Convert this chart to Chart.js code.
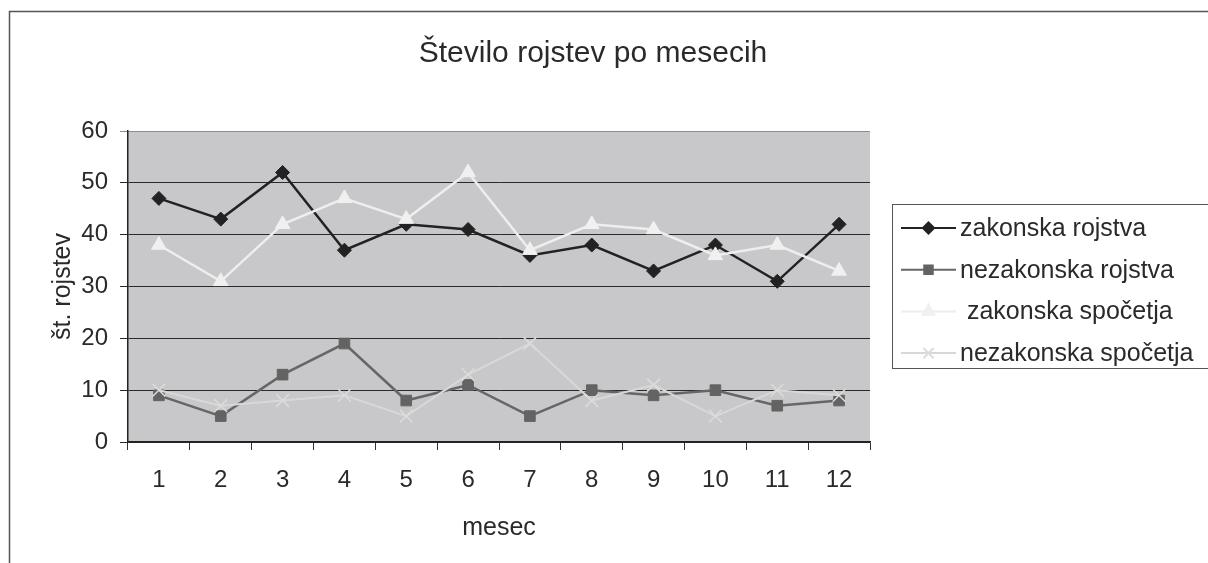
<!DOCTYPE html>
<html>
<head>
<meta charset="utf-8">
<script src="https://cdn.jsdelivr.net/npm/chart.js@4.4.0/dist/chart.umd.min.js"></script>
<style>
  html, body { margin: 0; padding: 0; background: #fff; }
  #okvir { width: 1208px; height: 563px; }
</style>
</head>
<body>
<div id="okvir"><canvas id="graficoRojstev" width="1208" height="563"></canvas></div>
<script>
// Podatki
const meseci = ['1', '2', '3', '4', '5', '6', '7', '8', '9', '10', '11', '12'];
const zakonskaRojstva = [47, 43, 52, 37, 42, 41, 36, 38, 33, 38, 31, 42];
const nezakonskaRojstva = [9, 5, 13, 19, 8, 11, 5, 10, 9, 10, 7, 8];
const zakonskaSpocetja = [38, 31, 42, 47, 43, 52, 37, 42, 41, 36, 38, 33];
const nezakonskaSpocetja = [10, 7, 8, 9, 5, 13, 19, 8, 11, 5, 10, 9];
const oznakeY = [0, 10, 20, 30, 40, 50, 60];

const naslov = 'Število rojstev po mesecih';
const pisava = 'Liberation Sans, Arial, Helvetica, sans-serif';
const barvaBesedila = '#2a2a2a';

// Ozadje risalne površine, zunanji okvir in naslov
const ozadje = {
  id: 'ozadje',
  beforeDraw(chart) {
    const { ctx, chartArea: a } = chart;
    ctx.save();
    ctx.fillStyle = '#c8c8ca';
    ctx.fillRect(a.left, a.top, a.right - a.left, a.bottom - a.top);
    ctx.restore();
  },
  afterDraw(chart) {
    const ctx = chart.ctx;
    ctx.save();
    ctx.strokeStyle = '#555';
    ctx.lineWidth = 1.5;
    ctx.strokeRect(9.5, 11.5, 1300, 700);
    ctx.fillStyle = barvaBesedila;
    ctx.font = '30px ' + pisava;
    ctx.textAlign = 'center';
    ctx.textBaseline = 'middle';
    ctx.fillText(naslov, 593, 54);
    ctx.restore();
  }
};

// Legenda (narisana ročno: črta + oznaka kot v originalu)
const legenda = {
  id: 'legenda',
  afterDraw(chart) {
    const ctx = chart.ctx;
    ctx.save();
    ctx.strokeStyle = '#555';
    ctx.lineWidth = 1;
    ctx.strokeRect(892.5, 204.5, 400, 164);
    chart.data.datasets.forEach((ds, i) => {
      const y = 228 + i * 41.7;
      ctx.strokeStyle = ds.borderColor;
      ctx.lineWidth = 2;
      ctx.beginPath();
      ctx.moveTo(901, y);
      ctx.lineTo(956, y);
      ctx.stroke();
      ctx.fillStyle = ds.pointBackgroundColor;
      ctx.strokeStyle = ds.pointBorderColor;
      Chart.helpers.drawPoint(ctx, {
        pointStyle: ds.pointStyle,
        radius: ds.pointRadius * 0.8,
        rotation: 0,
        borderWidth: ds.pointBorderWidth
      }, 928.5, y);
      ctx.fillStyle = barvaBesedila;
      ctx.font = '25px ' + pisava;
      ctx.textAlign = 'left';
      ctx.textBaseline = 'middle';
      ctx.fillText(ds.label, 960, y + 1);
    });
    ctx.restore();
  }
};

const ctx = document.getElementById('graficoRojstev').getContext('2d');

new Chart(ctx, {
  type: 'line',
  data: {
    labels: meseci,
    datasets: [
      {
        label: 'zakonska rojstva',
        data: zakonskaRojstva,
        borderColor: '#222',
        borderWidth: 2.5,
        pointStyle: 'rectRot',
        pointRadius: 7,
        pointBackgroundColor: '#222',
        pointBorderColor: '#222',
        pointBorderWidth: 1,
        order: 4
      },
      {
        label: 'nezakonska rojstva',
        data: nezakonskaRojstva,
        borderColor: '#666',
        borderWidth: 2.5,
        pointStyle: 'rect',
        pointRadius: 7.5,
        pointBackgroundColor: '#636363',
        pointBorderColor: '#636363',
        pointBorderWidth: 1,
        order: 3
      },
      {
        label: ' zakonska spočetja',
        data: zakonskaSpocetja,
        borderColor: '#eeeeee',
        borderWidth: 2.5,
        pointStyle: 'triangle',
        pointRadius: 8.5,
        pointBackgroundColor: '#f0f0f0',
        pointBorderColor: '#f0f0f0',
        pointBorderWidth: 1,
        order: 2
      },
      {
        label: 'nezakonska spočetja',
        data: nezakonskaSpocetja,
        borderColor: '#d8d8d8',
        borderWidth: 2,
        pointStyle: 'crossRot',
        pointRadius: 9,
        pointBackgroundColor: '#dcdcdc',
        pointBorderColor: '#dcdcdc',
        pointBorderWidth: 1.5,
        order: 1
      }
    ]
  },
  options: {
    responsive: false,
    animation: false,
    layout: { padding: { left: 0, right: 338, top: 131, bottom: 0 } },
    plugins: {
      legend: { display: false },
      title: { display: false },
      tooltip: { enabled: false }
    },
    elements: { line: { tension: 0 } },
    scales: {
      x: {
        offset: true,
        grid: { offset: true, drawOnChartArea: false, drawTicks: true, tickLength: 8, color: '#333', lineWidth: 1 },
        border: { color: '#222', width: 1.5 },
        ticks: { color: barvaBesedila, font: { family: pisava, size: 24 }, padding: 16, maxRotation: 0, autoSkip: false },
        title: { display: true, text: 'mesec', color: barvaBesedila, font: { family: pisava, size: 25 }, padding: { top: 0, bottom: 20 } },
        afterFit: s => { s.height = 121; }
      },
      y: {
        min: 0,
        max: 60,
        afterBuildTicks: s => { s.ticks = oznakeY.map(v => ({ value: v })); },
        ticks: { color: barvaBesedila, font: { family: pisava, size: 24 }, padding: 12 },
        grid: {
          color: c => (c.tick && c.tick.value === 60 ? '#8c8c8c' : '#2a2a2a'),
          lineWidth: 1,
          tickLength: 8
        },
        border: { color: '#222', width: 1.5 },
        title: { display: true, text: 'št. rojstev', color: barvaBesedila, font: { family: pisava, size: 25 }, padding: { top: 48, bottom: 0 } },
        afterFit: s => { s.width = 128; }
      }
    }
  },
  plugins: [ozadje, legenda]
});
</script>
</body>
</html>
